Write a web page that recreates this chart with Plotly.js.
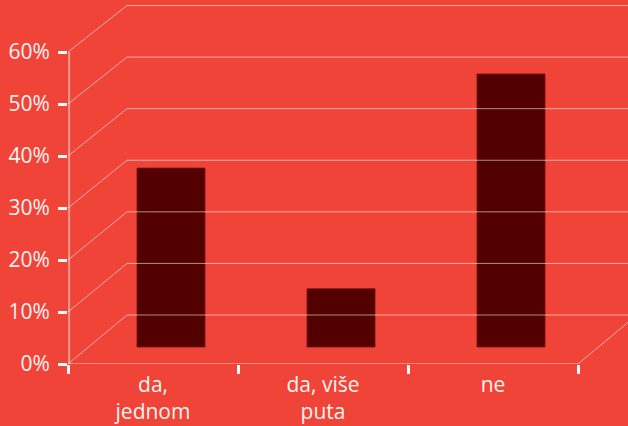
<!DOCTYPE html>
<html>
<head>
<meta charset="utf-8">
<script src="https://cdn.plot.ly/plotly-3.0.1.min.js"></script>
<style>html,body{margin:0;padding:0;background:#F04438;}#chart{width:628px;height:426px;}</style>
</head>
<body>
<div id="chart"></div>
<script>
// ---- data ----
const categories = ['da,<br>jednom', 'da, više<br>puta', 'ne'];
const values = [34.4, 11.2, 52.5];
const yTickVals = [0, 10, 20, 30, 40, 50, 60];
const yTickText = ['0%', '10%', '20%', '30%', '40%', '50%', '60%'];

// ---- styling / geometry ----
const BG = '#F04438';
const BAR = '#520000';
const TXT = '#FFF2F0';
const GRID = 'rgba(255,255,255,0.55)';
const W = 628, H = 426, ML = 68, MB = 62;
const PLOT_W = W - ML, PLOT_H = H - MB;
const PX_PER_UNIT = 5.2;          // pixels per 1 %
const CAT_PX = 170;               // pixels per category
const yMax = PLOT_H / PX_PER_UNIT;
const xMax = -0.5 + PLOT_W / CAT_PX;
// depth offsets (oblique 3D look)
const DEPTH_DX = 59 / PLOT_W;     // paper units
const BACK_DY = 49 / PX_PER_UNIT; // back wall raise, value units
const BACK_SCALE = 0.992;
const BAR_DX = 18 / CAT_PX;       // bars sit part-way into depth
const BAR_DY = 17 / PX_PER_UNIT;

const backY = v => BACK_DY + BACK_SCALE * v;

const shapes = [];
yTickVals.forEach(v => {
  // left wall diagonal
  shapes.push({type: 'line', xref: 'paper', yref: 'y', x0: 0, x1: DEPTH_DX, y0: v, y1: backY(v),
               line: {color: GRID, width: 1}, layer: 'above'});
  // back wall horizontal
  shapes.push({type: 'line', xref: 'paper', yref: 'y', x0: DEPTH_DX, x1: 1.05, y0: backY(v), y1: backY(v),
               line: {color: GRID, width: 1}, layer: 'above'});
});
const floorEnd = (3 * CAT_PX) / PLOT_W;
// floor front edge
shapes.push({type: 'line', xref: 'paper', yref: 'y', x0: 0, x1: floorEnd, y0: 0, y1: 0,
             line: {color: 'rgba(255,255,255,0.75)', width: 1.2}, layer: 'above'});
// floor right edge
shapes.push({type: 'line', xref: 'paper', yref: 'y', x0: floorEnd, x1: floorEnd + DEPTH_DX, y0: 0, y1: backY(0),
             line: {color: GRID, width: 1}, layer: 'above'});
// vertical value axis line
shapes.push({type: 'line', xref: 'paper', yref: 'y', x0: 0.002, x1: 0.002, y0: 0, y1: yTickVals[yTickVals.length - 1],
             line: {color: 'rgba(255,255,255,0.45)', width: 2}, layer: 'above'});

const data = [{
  type: 'bar',
  x: categories,
  y: values,
  xaxis: 'x2',
  yaxis: 'y2',
  width: 0.4,
  marker: {color: BAR, line: {color: 'rgba(120,20,20,0.9)', width: 1}},
  hoverinfo: 'skip'
}];

const layout = {
  width: W, height: H,
  margin: {l: ML, r: 0, t: 0, b: MB},
  paper_bgcolor: BG,
  plot_bgcolor: BG,
  showlegend: false,
  font: {family: 'Open Sans, sans-serif', size: 21, color: TXT},
  xaxis: {
    type: 'category', categoryarray: categories, range: [-0.5, xMax],
    tickson: 'boundaries', ticks: 'outside', ticklen: 9, tickwidth: 3, tickcolor: '#FFFFFF',
    ticklabelstandoff: 6,
    showgrid: false, zeroline: false, showline: false, fixedrange: true,
    tickfont: {size: 21, color: TXT}
  },
  yaxis: {
    range: [0, yMax], tickvals: yTickVals, ticktext: yTickText,
    ticks: 'outside', ticklen: 9, tickwidth: 3, tickcolor: '#FFFFFF',
    ticklabelstandoff: 4,
    showgrid: false, zeroline: false, showline: false, fixedrange: true,
    tickfont: {size: 21, color: TXT}
  },
  xaxis2: {
    type: 'category', categoryarray: categories, overlaying: 'x', anchor: 'y2',
    range: [-0.5 - BAR_DX, xMax - BAR_DX], visible: false, fixedrange: true
  },
  yaxis2: {
    overlaying: 'y', anchor: 'x2',
    range: [-BAR_DY, yMax - BAR_DY], visible: false, fixedrange: true
  },
  shapes: shapes
};

Plotly.newPlot('chart', data, layout, {displayModeBar: false, staticPlot: true});
</script>
</body>
</html>
